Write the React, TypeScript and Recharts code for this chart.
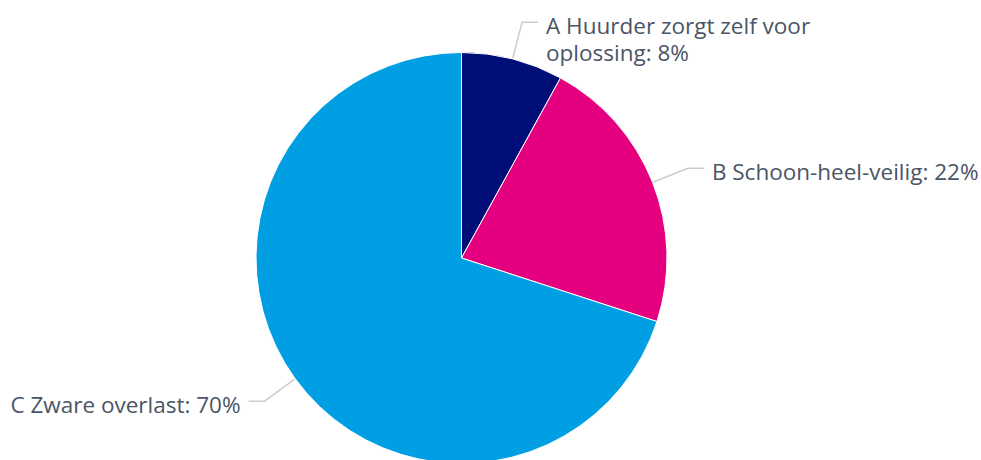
import React from "react";
import { PieChart, Pie, Cell } from "recharts";

const categories = ["A Huurder zorgt zelf voor oplossing", "B Schoon-heel-veilig", "C Zware overlast"];
const labelLines = [["A Huurder zorgt zelf voor", "oplossing: 8%"], ["B Schoon-heel-veilig: 22%"], ["C Zware overlast: 70%"]];
const values = [8, 22, 70];
const colors = ["#000f78", "#e4007f", "#009fe3"];

const data = categories.map((name, i) => ({ name, value: values[i] }));

const CX = 461.5;
const CY = 258;
const R = 205.5;
const RAD = Math.PI / 180;

const renderLabel = (props: any) => {
  const { index, midAngle, cx, cy, outerRadius } = props;
  const cos = Math.cos(-midAngle * RAD);
  const sin = Math.sin(-midAngle * RAD);
  const sx = cx + (outerRadius + 1) * cos;
  const sy = cy + (outerRadius + 1) * sin;
  const ex = cx + (outerRadius + 38) * cos;
  const ey = cy + (outerRadius + 38) * sin;
  const right = cos >= 0;
  const hx = ex + (right ? 16 : -16);
  const tx = hx + (right ? 8 : -8);
  const lines = labelLines[index];
  return (
    <g key={`lbl-${index}`}>
      <path d={`M${sx},${sy}L${ex},${ey}L${hx},${ey}`} stroke="#cccccc" strokeWidth={1.5} fill="none" />
      <text
        x={tx}
        y={ey}
        textAnchor={right ? "start" : "end"}
        fill="#4a5565"
        fontFamily="'Open Sans', sans-serif"
        fontSize={22.5}
      >
        {lines.map((t, i) => (
          <tspan key={i} x={tx} dy={i === 0 ? 11.5 : 27}>
            {t}
          </tspan>
        ))}
      </text>
    </g>
  );
};

export default function App() {
  return (
    <div style={{ position: "absolute", left: 0, top: 0, width: 981, height: 460, background: "#fff" }}>
      <PieChart width={981} height={460} margin={{ top: 0, right: 0, bottom: 0, left: 0 }}>
        <Pie
          data={data}
          dataKey="value"
          nameKey="name"
          cx={CX}
          cy={CY}
          outerRadius={R}
          startAngle={90}
          endAngle={-270}
          stroke="#ffffff"
          strokeWidth={1}
          label={renderLabel}
          labelLine={false}
          isAnimationActive={false}
        >
          {data.map((d, i) => (
            <Cell key={d.name} fill={colors[i]} />
          ))}
        </Pie>
      </PieChart>
    </div>
  );
}
